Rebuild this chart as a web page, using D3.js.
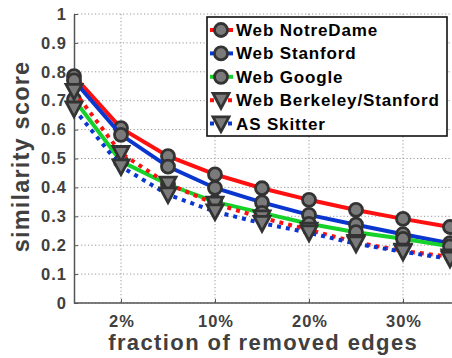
<!DOCTYPE html>
<html>
<head>
<meta charset="utf-8">
<script src="https://cdn.jsdelivr.net/npm/d3@7"></script>
<style>
  html, body { margin: 0; padding: 0; background: #fff; }
  svg { display: block; font-family: "Liberation Sans", Arial, Helvetica, sans-serif; font-weight: bold; }
  svg text { font-weight: bold; }
</style>
</head>
<body>
<svg id="chart" width="452" height="358"></svg>
<script>
// Fraction of removed edges (one point per step)
const fractions = ["1%", "2%", "5%", "10%", "15%", "20%", "25%", "30%", "35%"];
const xTickLabels = ["2%", "10%", "20%", "30%"];
const yTicks = [0, 0.1, 0.2, 0.3, 0.4, 0.5, 0.6, 0.7, 0.8, 0.9, 1];

// Similarity score per graph
const webNotreDame  = [0.785, 0.605, 0.508, 0.445, 0.397, 0.357, 0.322, 0.291, 0.263];
const webStanford   = [0.770, 0.582, 0.472, 0.398, 0.348, 0.305, 0.271, 0.238, 0.207];
const webGoogle     = [0.705, 0.490, 0.410, 0.350, 0.312, 0.274, 0.245, 0.222, 0.196];
const webBerkStan   = [0.733, 0.518, 0.412, 0.343, 0.295, 0.253, 0.210, 0.180, 0.160];
const asSkitter     = [0.672, 0.472, 0.375, 0.316, 0.276, 0.243, 0.205, 0.177, 0.153];

const seriesNames = ["Web NotreDame", "Web Stanford", "Web Google", "Web Berkeley/Stanford", "AS Skitter"];

const series = [
  { name: seriesNames[0], values: webNotreDame, color: "#ff1010", dotted: false, marker: "circle" },
  { name: seriesNames[1], values: webStanford,  color: "#0a36d0", dotted: false, marker: "circle" },
  { name: seriesNames[2], values: webGoogle,    color: "#16d12a", dotted: false, marker: "circle" },
  { name: seriesNames[3], values: webBerkStan,  color: "#ff1010", dotted: true,  marker: "triangle" },
  { name: seriesNames[4], values: asSkitter,    color: "#0a36d0", dotted: true,  marker: "triangle" }
];

const svg = d3.select("#chart");
const plotLeft = 74, plotRight = 450, plotTop = 14, plotBottom = 303;
const axisColor = "#555";
const textColor = "#404040";

const x = d3.scalePoint().domain(fractions).range([plotLeft, plotRight]);
const y = d3.scaleLinear().domain([0, 1]).range([plotBottom, plotTop]);

// dotted grid
const grid = svg.append("g");
grid.selectAll("line.h").data(yTicks).join("line")
  .attr("x1", plotLeft).attr("x2", 452)
  .attr("y1", d => y(d)).attr("y2", d => y(d))
  .attr("stroke", "#999").attr("stroke-width", 1).attr("stroke-dasharray", "1.2,2.3");
grid.selectAll("line.v").data(xTickLabels).join("line")
  .attr("x1", d => x(d)).attr("x2", d => x(d))
  .attr("y1", plotTop).attr("y2", plotBottom)
  .attr("stroke", "#999").attr("stroke-width", 1).attr("stroke-dasharray", "1.2,2.3");

function styleTickText(sel) {
  sel.attr("fill", textColor)
    .style("font-family", "'Liberation Sans', Arial, sans-serif")
    .style("font-weight", "bold")
    .style("font-size", "16.5px")
    .style("letter-spacing", "1px");
}

// axes
const yAxis = svg.append("g").attr("transform", `translate(${plotLeft},0)`)
  .call(d3.axisLeft(y).tickValues(yTicks).tickSizeInner(-4).tickSizeOuter(0)
    .tickPadding(7).tickFormat(d => d3.format("~g")(d)));
yAxis.select(".domain").attr("stroke", axisColor).attr("stroke-width", 1.5);
yAxis.selectAll(".tick line").attr("stroke", axisColor);
yAxis.selectAll("text").call(styleTickText);

const xAxis = svg.append("g").attr("transform", `translate(0,${plotBottom})`)
  .call(d3.axisBottom(x).tickValues(xTickLabels).tickSizeInner(-4).tickSizeOuter(0).tickPadding(0));
xAxis.select(".domain").attr("stroke", axisColor).attr("stroke-width", 1.5)
  .attr("d", `M${plotLeft},0H452`);
xAxis.selectAll(".tick line").attr("stroke", axisColor);
xAxis.selectAll("text").call(styleTickText)
  .attr("dy", null).attr("y", 23.5).attr("dx", 0.5);

// axis titles
svg.append("text").attr("x", (plotLeft + 451) / 2 + 0.7).attr("y", 349.5)
  .attr("text-anchor", "middle").attr("fill", textColor)
  .style("font-size", "22px").style("letter-spacing", "1.4px")
  .text("fraction of removed edges");
svg.append("text").attr("transform", `translate(29,${(plotTop + plotBottom) / 2 - 2}) rotate(-90)`)
  .attr("text-anchor", "middle").attr("fill", textColor)
  .style("font-size", "23.5px").style("letter-spacing", "1.2px")
  .text("similarity score");

// markers
const markerFill = "#7a7a7a", markerStroke = "#333";
function drawMarker(g, type, cx, cy) {
  if (type === "circle") {
    g.append("circle").attr("cx", cx).attr("cy", cy).attr("r", 6.5)
      .attr("fill", markerFill).attr("stroke", markerStroke).attr("stroke-width", 2.8);
  } else {
    const s = 8;
    g.append("path")
      .attr("d", `M${cx - s},${cy - s * 0.85}L${cx + s},${cy - s * 0.85}L${cx},${cy + s * 1.0}Z`)
      .attr("fill", markerFill).attr("stroke", markerStroke).attr("stroke-width", 2.8)
      .attr("stroke-linejoin", "miter");
  }
}

const line = d3.line().x((d, i) => x(fractions[i])).y(d => y(d));

series.forEach(s => {
  const g = svg.append("g");
  g.append("path").attr("d", line(s.values)).attr("fill", "none")
    .attr("stroke", s.color).attr("stroke-width", 4)
    .attr("stroke-dasharray", s.dotted ? "4,5" : null)
    .attr("stroke-linecap", "butt");
  s.values.forEach((v, i) => drawMarker(g, s.marker, x(fractions[i]), y(v)));
});

// legend
const lg = svg.append("g");
lg.append("rect").attr("x", 207).attr("y", 17).attr("width", 240).attr("height", 119)
  .attr("fill", "#fff").attr("stroke", "#111").attr("stroke-width", 1.6);
series.forEach((s, i) => {
  const cy = 30 + i * 23.4;
  lg.append("line").attr("x1", 210).attr("x2", 233).attr("y1", cy).attr("y2", cy)
    .attr("stroke", s.color).attr("stroke-width", 4)
    .attr("stroke-dasharray", s.dotted ? "4,5" : null);
  drawMarker(lg, s.marker, 221, cy);
  lg.append("text").attr("x", 236).attr("y", cy + 6).attr("fill", "#000")
    .style("font-size", "17px").style("letter-spacing", "0.85px").text(s.name);
});
</script>
</body>
</html>
